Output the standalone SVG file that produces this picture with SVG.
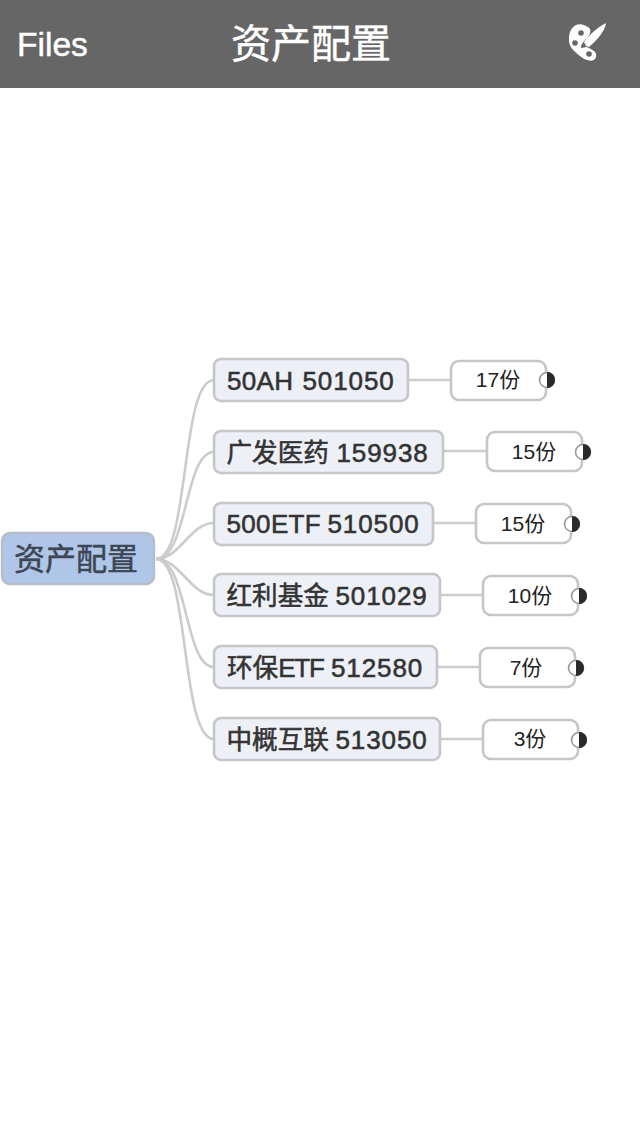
<svg xmlns="http://www.w3.org/2000/svg" width="640" height="1136" viewBox="0 0 640 1136">
<style>
text{font-family:"Liberation Sans","Noto Sans CJK SC",sans-serif}
.c{fill:none;stroke:#cccccc;stroke-width:2.6}
.n rect{fill:#eef0f7;stroke:#c6c6c6;stroke-width:2.6}
.n text{font-size:26px;fill:#333;stroke:#333;stroke-width:.55px}
.n .h{font-size:25.6px;letter-spacing:0}
.n .d{letter-spacing:.9px}
.n .e{letter-spacing:-1.2px}
.n .m{letter-spacing:.35px}
.l rect{fill:#fff;stroke:#c6c6c6;stroke-width:2.6}
.l text{font-size:21px;fill:#222;text-anchor:middle}
.dot circle{fill:#fff;stroke:#999;stroke-width:1.6}
.dot path{fill:#2a2a2a}
</style>
<rect width="640" height="1136" fill="#fff"/>
<g id="header">
<rect width="640" height="88" fill="#666666"/>
<text x="17" y="56" font-size="33.6" fill="#fff" stroke="#fff" stroke-width=".5">Files</text>
<text x="311" y="58" font-size="40" fill="#fff" stroke="#fff" stroke-width=".5" text-anchor="middle" style="font-family:'Noto Sans CJK SC',sans-serif">资产配置</text>
<g id="palette">
<path d="M586 26C576 21 570 28 569 37C568 47 574 51 580 56C586 61 594 63 596 57C598 51 590 49 587 47L581 48C580 45 585 40 588 37C591 33 592 28 586 26Z" fill="#fff"/>
<circle cx="581" cy="33" r="2.800" fill="#666"/><circle cx="575" cy="43" r="2.800" fill="#666"/><circle cx="589" cy="54" r="2.800" fill="#666"/>
<path d="M584 42C590 34 598 27 606 23C605 31 597 40 589 47L586 46Z" fill="#fff"/>
</g>
</g>
<g id="connectors">
<path class="c" d="M156 559C190 559 180 380 214 380"/>
<path class="c" d="M156 559C188 559 184 452 214 452"/>
<path class="c" d="M156 559C180 559 190 523 214 523"/>
<path class="c" d="M156 559C180 559 190 595 214 595"/>
<path class="c" d="M156 559C188 559 184 667 214 667"/>
<path class="c" d="M156 559C190 559 180 739 214 739"/>
<path class="c" d="M408 380H451M443 451H487M433 523H476M440 595H483M437 667H480M440 739H483"/>
</g>
<g id="root"><rect x="2" y="533" width="152" height="51" rx="8" fill="#afc6e8" stroke="#b5bdc9" stroke-width="2.400"/><text x="76" y="570" font-size="31" fill="#3d4654" stroke="#3d4654" stroke-width=".5" text-anchor="middle" style="font-family:'Noto Sans CJK SC',sans-serif">资产配置</text></g>
<g id="n1" class="n"><rect x="214" y="359" width="194" height="42" rx="7"/><text x="227" y="389.500"><tspan class="m">50AH</tspan> <tspan class="d" x="302.500">501050</tspan></text></g>
<g id="n2" class="n"><rect x="214" y="431" width="229" height="42" rx="7"/><text x="226.500" y="461.500"><tspan class="h">广发医药</tspan> <tspan class="d" x="336.500">159938</tspan></text></g>
<g id="n3" class="n"><rect x="214" y="503" width="219" height="42" rx="7"/><text x="226.500" y="533"><tspan class="m">500ETF</tspan> <tspan class="d" x="327.500">510500</tspan></text></g>
<g id="n4" class="n"><rect x="214" y="574" width="226" height="42" rx="7"/><text x="226.500" y="605"><tspan class="h">红利基金</tspan> <tspan class="d" x="335.500">501029</tspan></text></g>
<g id="n5" class="n"><rect x="214" y="646" width="223" height="42" rx="7"/><text x="227" y="677"><tspan class="h">环保</tspan><tspan class="e">ETF</tspan> <tspan class="d" x="331">512580</tspan></text></g>
<g id="n6" class="n"><rect x="214" y="718" width="226" height="42" rx="7"/><text x="226.500" y="749"><tspan class="h">中概互联</tspan> <tspan class="d" x="335.500">513050</tspan></text></g>
<g id="l1" class="l"><rect x="451" y="361" width="95" height="39" rx="8"/><text x="498" y="387">17份</text></g>
<g id="d1" class="dot"><circle cx="547" cy="380" r="7.500"/><path d="M547 372a8 8 0 0 1 0 16Z"/></g>
<g id="l2" class="l"><rect x="487" y="432" width="95" height="39" rx="8"/><text x="534" y="459">15份</text></g>
<g id="d2" class="dot"><circle cx="583" cy="452" r="7.500"/><path d="M583 444a8 8 0 0 1 0 16Z"/></g>
<g id="l3" class="l"><rect x="476" y="504" width="95" height="39" rx="8"/><text x="523" y="531">15份</text></g>
<g id="d3" class="dot"><circle cx="572" cy="524" r="7.500"/><path d="M572 516a8 8 0 0 1 0 16Z"/></g>
<g id="l4" class="l"><rect x="483" y="576" width="95" height="39" rx="8"/><text x="530" y="603">10份</text></g>
<g id="d4" class="dot"><circle cx="579" cy="596" r="7.500"/><path d="M579 588a8 8 0 0 1 0 16Z"/></g>
<g id="l5" class="l"><rect x="480" y="648" width="95" height="39" rx="8"/><text x="526" y="675">7份</text></g>
<g id="d5" class="dot"><circle cx="576" cy="668" r="7.500"/><path d="M576 660a8 8 0 0 1 0 16Z"/></g>
<g id="l6" class="l"><rect x="483" y="720" width="95" height="39" rx="8"/><text x="530" y="746">3份</text></g>
<g id="d6" class="dot"><circle cx="579" cy="740" r="7.500"/><path d="M579 732a8 8 0 0 1 0 16Z"/></g>
</svg>
